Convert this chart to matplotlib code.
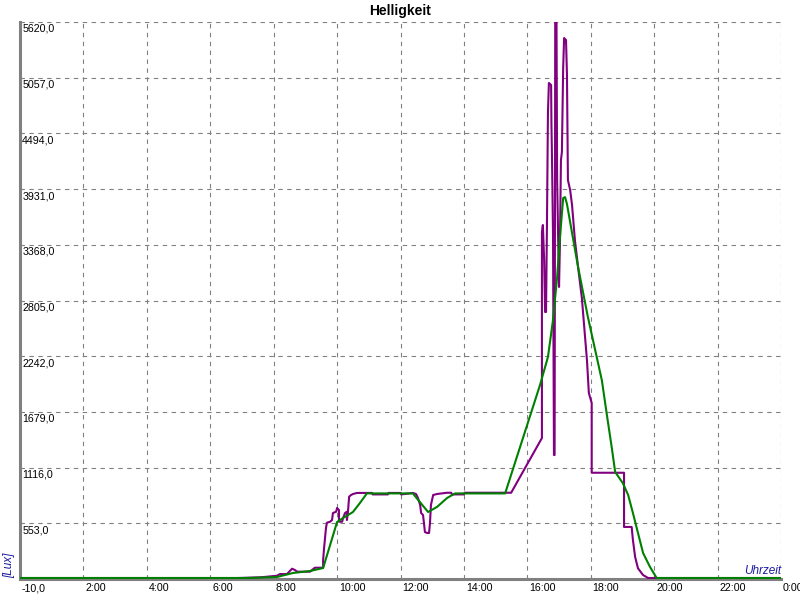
import matplotlib
matplotlib.use("Agg")
import matplotlib.pyplot as plt

# Helligkeit ueber den Tag, Stunden / Lux
lux_h = [0.00, 6.87, 7.57, 7.79, 8.10, 8.20, 8.42, 8.52, 8.58, 8.67, 8.74, 9.15, 9.21, 9.30,
         9.56, 9.56, 9.59, 9.65, 9.68, 9.78, 9.84, 9.87, 9.97, 10.00, 10.06, 10.06, 10.16,
         10.19, 10.25, 10.31, 10.31, 10.34, 10.38, 10.44, 10.50, 10.63, 11.10, 11.12, 11.60,
         11.62, 12.00, 12.02, 12.39, 12.49, 12.55, 12.62, 12.65, 12.71, 12.74, 12.77, 12.84,
         12.90, 12.93, 12.96, 13.03, 13.15, 13.47, 13.60, 13.62, 14.00, 14.02, 15.49,
         16.46, 16.46, 16.49, 16.53, 16.56, 16.59, 16.62, 16.65, 16.68, 16.75, 16.76, 16.78,
         16.81, 16.84, 16.86, 16.88, 16.92, 16.94, 16.97, 17.00, 17.03, 17.06, 17.09, 17.13,
         17.16, 17.22, 17.25, 17.28, 17.35, 17.41, 17.50, 17.60, 17.72, 17.82, 17.88, 17.94,
         18.03, 18.03, 19.05, 19.05, 19.29, 19.33, 19.40, 19.49, 19.65, 19.81, 24.00]
lux = [0, 0, 7, 13, 23, 40, 40, 74, 94, 81, 64, 64, 81, 104,
       104, 182, 303, 506, 559, 569, 586, 657, 670, 708, 687, 569, 569,
       607, 657, 670, 586, 657, 822, 839, 849, 860, 860, 845, 845,
       860, 860, 845, 860, 849, 809, 738, 657, 637, 556, 465, 455,
       455, 556, 738, 839, 849, 862, 862, 845, 845, 862, 862,
       1415, 3497, 3568, 3214, 2689, 2689, 3619, 4700, 5004, 4983, 4599, 4195,
       3467, 1243, 1243, 5620, 5620, 4023, 3467, 2942, 3417, 4225, 4306, 5155,
       5458, 5438, 5084, 4023, 3922, 3770, 3417, 3144, 2830, 2437, 2204, 1870,
       1769, 1064, 1064, 516, 516, 384, 212, 98, 30, 0, 0]

# geglaetteter Verlauf
avg_h = [0.00, 7.16, 8.10, 8.61, 9.15, 9.56, 10.00, 10.19, 10.50, 10.72, 10.94, 12.39,
         12.87, 13.15, 13.47, 13.72, 15.30, 16.40, 16.65, 16.81, 16.94, 17.03, 17.13,
         17.19, 17.25, 17.60, 17.91, 18.35, 18.50, 18.66, 18.77, 19.01, 19.18, 19.33,
         19.49, 19.65, 19.87, 20.08, 24.00]
avg = [0, 0, 10, 51, 71, 101, 566, 607, 667, 758, 855, 855,
       667, 718, 809, 855, 855, 1951, 2234, 2608, 3043, 3447, 3841,
       3850, 3780, 3144, 2638, 1999, 1668, 1324, 1072, 960, 839, 657,
       455, 253, 111, 0, 0]

x_ticks = list(range(0, 25, 2))
x_labels = ["-10,0", "2:00", "4:00", "6:00", "8:00", "10:00", "12:00", "14:00",
            "16:00", "18:00", "20:00", "22:00", "0:00"]
y_ticks = [-10, 553, 1116, 1679, 2242, 2805, 3368, 3931, 4494, 5057, 5620]
y_labels = ["553,0", "1116,0", "1679,0", "2242,0", "2805,0", "3368,0", "3931,0",
            "4494,0", "5057,0", "5620,0"]

plt.rcParams['font.family'] = ['Liberation Sans', 'DejaVu Sans']

fig = plt.figure(figsize=(8, 6), dpi=100)
ax = fig.add_axes([0.025, 0.035, 0.95125, 0.9283])

ax.plot(lux_h, lux, color='#800080', lw=1.5, zorder=3)
ax.plot(avg_h, avg, color='#008000', lw=1.5, zorder=4)

ax.set_xlim(0, 24)
ax.set_ylim(-10, 5620)
ax.set_xticks(x_ticks)
ax.set_yticks(y_ticks)
ax.tick_params(length=0, labelbottom=False, labelleft=False)
ax.grid(True, color='#808080', lw=0.8, linestyle=(0, (4, 4)))

for s in ['top', 'right']:
    ax.spines[s].set_visible(False)
for s in ['left', 'bottom']:
    ax.spines[s].set_color('#808080')
    ax.spines[s].set_linewidth(2.2)

# Beschriftungen wie im Original: links oben an der Gitterlinie
for v, t in zip(y_ticks[1:], y_labels):
    ax.text(0.003, v - 20, t, transform=ax.get_yaxis_transform(),
            ha='left', va='top', fontsize=7.7, clip_on=False)
for h, t in zip(x_ticks, x_labels):
    ax.text(h + 0.06, -0.008, t, transform=ax.get_xaxis_transform(),
            ha='left', va='top', fontsize=7.7, clip_on=False)

fig.text(0.5, 0.982, "Helligkeit", ha='center', va='center',
         fontsize=10, fontweight='bold')
fig.text(0.011, 0.036, "[Lux]", rotation=90, ha='center', va='bottom',
         fontsize=8.5, style='italic', color='#1c1ca0')
fig.text(0.976, 0.038, "Uhrzeit", ha='right', va='bottom',
         fontsize=8.5, style='italic', color='#1c1ca0')

fig.savefig("out.png", dpi=100)
